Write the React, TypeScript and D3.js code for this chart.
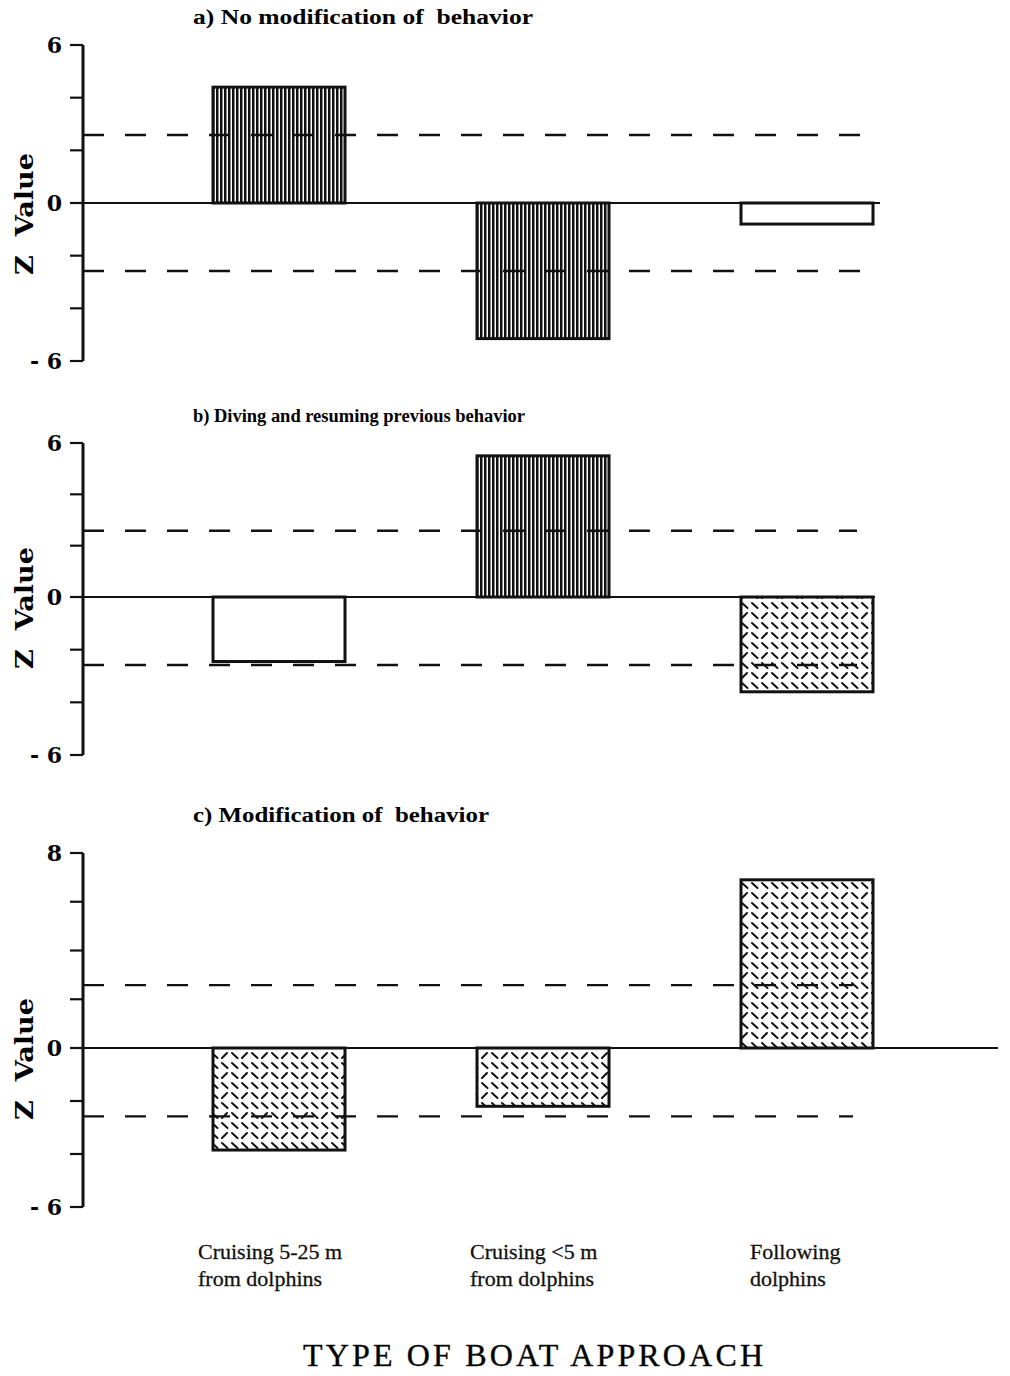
import * as d3 from "d3";

const W = 1010;
const H = 1376;

const categories = ["c1", "c2", "c3"];
const catLines = [
  ["Cruising 5-25 m", "from dolphins"],
  ["Cruising <5 m", "from dolphins"],
  ["Following", "dolphins"],
];

const titles = [
  "a) No modification of  behavior",
  "b) Diving and resuming previous behavior",
  "c) Modification of  behavior",
];
const valuesA = [4.4, -5.15, -0.8];
const valuesB = [-2.45, 5.5, -3.6];
const valuesC = [-3.85, -2.2, 6.9];
const fillsA = ["vert", "vert", "white"];
const fillsB = ["white", "vert", "dash"];
const fillsC = ["dash", "dash", "dash"];
const critical = 2.58;
const tickValuesA = [6, 4, 2, 0, -2, -4, -6];
const tickValuesC = [8, 6, 4, 2, 0, -2, -4, -6];

// per panel: domain top/0/bottom mapped to pixel rows (axes in the scan are not quite uniform)
const panels = [
  { title: titles[0], values: valuesA, fills: fillsA, ticks: tickValuesA, dom: [6, 0, -6], rng: [45, 203, 361], titleY: 24, titleW: 340, titleSize: 20, adjust: "spacingAndGlyphs", zeroEnd: 880, dashEnd: 862 },
  { title: titles[1], values: valuesB, fills: fillsB, ticks: tickValuesA, dom: [6, 0, -6], rng: [443, 597, 755], titleY: 422, titleW: 332, titleSize: 18.5, adjust: "spacing", zeroEnd: 875, dashEnd: 857 },
  { title: titles[2], values: valuesC, fills: fillsC, ticks: tickValuesC, dom: [8, 0, -6], rng: [853, 1048, 1207], titleY: 822, titleW: 296, titleSize: 20, adjust: "spacingAndGlyphs", zeroEnd: 998, dashEnd: 853 },
];

const AXIS_X = 83;
const SERIF = "'Liberation Serif', 'DejaVu Serif', serif";
const WIDE = "'DejaVu Serif', 'Liberation Serif', serif";
const labelShift = [-15, -7, 9];

export default function App() {
  const x = d3.scaleBand().domain(categories).range([147, 939]).paddingInner(0.5).paddingOuter(0.25);

  return (
    <svg width={W} height={H} viewBox={`0 0 ${W} ${H}`} style={{ display: "block", background: "#fff", marginTop: -8, marginLeft: -8 }}>
      <defs>
        <pattern id="vert" width="4" height="4" patternUnits="userSpaceOnUse">
          <rect width="4" height="4" fill="#fff" />
          <rect width="2.5" height="4" fill="#111" />
        </pattern>
        <pattern id="dash" width="20" height="20" patternUnits="userSpaceOnUse">
          <rect width="20" height="20" fill="#fff" />
          <g stroke="#111" strokeWidth="2" strokeLinecap="round">
            <line x1="2" y1="3" x2="7.5" y2="8" />
            <line x1="12" y1="13" x2="17.5" y2="18" />
            <line x1="12" y1="3" x2="17.5" y2="8" />
            <line x1="2" y1="18" x2="7" y2="13" />
          </g>
        </pattern>
      </defs>

      {panels.map((p, pi) => {
        const y = d3.scaleLinear().domain(p.dom).range(p.rng);
        const y0 = y(0);
        return (
          <g key={pi}>
            <text
              x={193}
              y={p.titleY}
              fontFamily={SERIF}
              fontWeight="bold"
              fontSize={p.titleSize}
              textLength={p.titleW}
              lengthAdjust={p.adjust}
              style={{ whiteSpace: "pre" }}
            >
              {p.title}
            </text>
            <text
              transform={`translate(33, ${y0 + 11}) rotate(-90)`}
              textAnchor="middle"
              fontFamily={WIDE}
              fontWeight="bold"
              fontSize={25}
              textLength={122}
              lengthAdjust="spacingAndGlyphs"
              style={{ whiteSpace: "pre" }}
            >
              Z  Value
            </text>

            {/* bars */}
            {p.values.map((v, i) => {
              const x0 = x(categories[i]) as number;
              const top = Math.min(y(v), y0);
              const h = Math.abs(y(v) - y0);
              const f = p.fills[i];
              return (
                <rect
                  key={i}
                  x={x0}
                  y={top}
                  width={x.bandwidth()}
                  height={h}
                  fill={f === "white" ? "#fff" : `url(#${f})`}
                  stroke="#111"
                  strokeWidth={3}
                />
              );
            })}

            {/* zero line */}
            <line x1={AXIS_X} x2={p.zeroEnd} y1={y0} y2={y0} stroke="#111" strokeWidth={2.2} />

            {/* critical value dashed lines */}
            {[critical, -critical].map((c) => (
              <line
                key={c}
                x1={AXIS_X}
                x2={p.dashEnd}
                y1={y(c)}
                y2={y(c)}
                stroke="#111"
                strokeWidth={2.4}
                strokeDasharray="21 21"
              />
            ))}

            {/* axis */}
            <line x1={AXIS_X} x2={AXIS_X} y1={y(p.dom[0])} y2={y(p.dom[2])} stroke="#111" strokeWidth={3} />
            {p.ticks.map((t) => (
              <line key={t} x1={AXIS_X - 13} x2={AXIS_X} y1={y(t)} y2={y(t)} stroke="#111" strokeWidth={2.2} />
            ))}
            {[p.dom[0], 0, p.dom[2]].map((t) => (
              <text
                key={t}
                x={62}
                y={y(t) + 8}
                textAnchor="end"
                fontFamily={WIDE}
                fontWeight="bold"
                fontSize={22}
              >
                {t < 0 ? `- ${Math.abs(t)}` : t}
              </text>
            ))}
          </g>
        );
      })}

      {/* category labels */}
      {catLines.map((lines, i) => (
        <text key={i} fontFamily={SERIF} fontSize={22} fill="#111" stroke="#111" strokeWidth={0.3}>
          {lines.map((l, j) => (
            <tspan key={j} x={(x(categories[i]) as number) + labelShift[i]} y={1259 + j * 27}>
              {l}
            </tspan>
          ))}
        </text>
      ))}

      <text
        x={533}
        y={1366}
        textAnchor="middle"
        fontFamily={SERIF}
        fontSize={32}
        stroke="#111"
        strokeWidth={0.4}
        textLength={460}
        lengthAdjust="spacing"
      >
        TYPE OF BOAT APPROACH
      </text>
    </svg>
  );
}
